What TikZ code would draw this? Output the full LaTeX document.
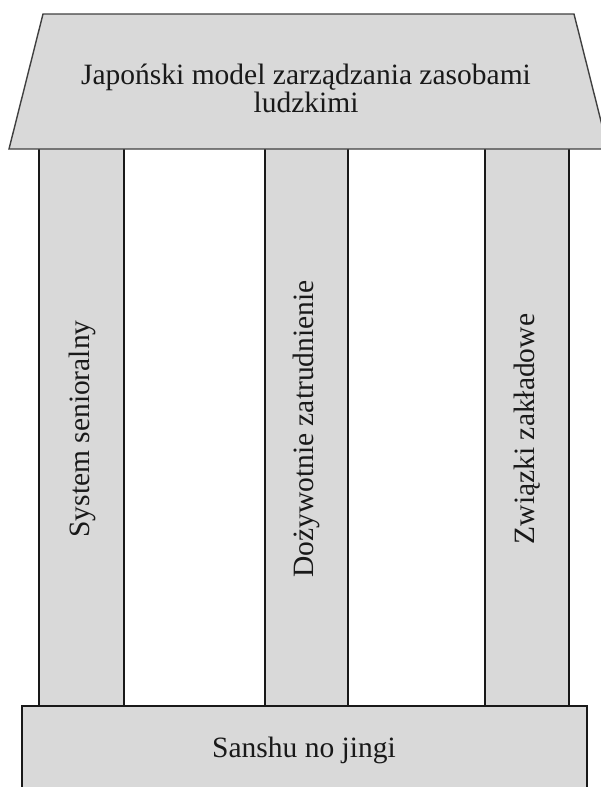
\documentclass[tikz,border=0pt]{standalone}
\usepackage{fontspec}
\setmainfont{Liberation Serif}
\begin{document}
\begin{tikzpicture}[x=1pt,y=-1pt,
  block/.style={fill=roofgray,draw=black!90,line width=2.2pt},
  roofline/.style={fill=roofgray,draw=black!75,line width=1.4pt,line join=miter},
  label/.style={font=\fontsize{29.5}{28}\selectfont,align=center,inner sep=0pt,text=black!90}]
\definecolor{roofgray}{RGB}{217,217,217}
\useasboundingbox (0,0) rectangle (601,787);
\clip (0,0) rectangle (601,787);
% pillars
\path[block] (39,140) rectangle (124,706);
\path[block] (265,140) rectangle (348,706);
\path[block] (485,140) rectangle (569,706);
% roof
\path[roofline] (43,14) -- (574,14) -- (608,149) -- (9,149) -- cycle;
% base
\path[block] (22,706) rectangle (587,800);
% texts
\node[label] (roof) at (306,88) {Japoński model zarządzania zasobami\\ludzkimi};
\node[label,rotate=90] (p1) at (82,429) {System senioralny};
\node[label,rotate=90] (p2) at (306,429) {Dożywotnie zatrudnienie};
\node[label,rotate=90] (p3) at (527,429) {Związki zakładowe};
\node[label] (base) at (304,750) {Sanshu no jingi};
\end{tikzpicture}
\end{document}
